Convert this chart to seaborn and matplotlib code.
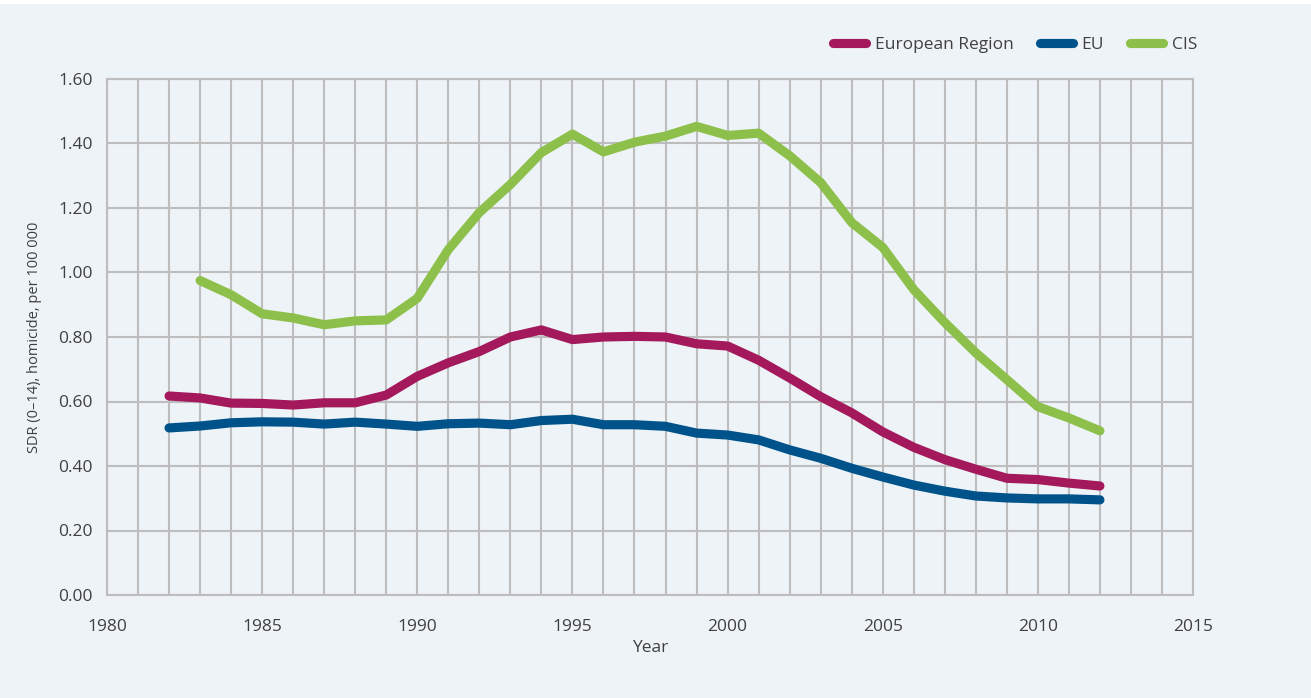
import matplotlib
matplotlib.use("Agg")
import matplotlib.pyplot as plt
import matplotlib.ticker as mticker
import numpy as np
import pandas as pd
import seaborn as sns

# SDR (0-14), homicide, per 100 000
years_eur = list(range(1982, 2013))
european_region = [0.617, 0.611, 0.595, 0.594, 0.589, 0.596, 0.596, 0.620, 0.678, 0.720,
                   0.755, 0.800, 0.822, 0.792, 0.800, 0.802, 0.800, 0.779, 0.772, 0.728,
                   0.673, 0.615, 0.565, 0.506, 0.458, 0.420, 0.390, 0.362, 0.358, 0.347,
                   0.338]
years_eu = list(range(1982, 2013))
eu = [0.518, 0.524, 0.534, 0.537, 0.536, 0.530, 0.536, 0.530, 0.523, 0.531,
      0.533, 0.528, 0.541, 0.545, 0.528, 0.528, 0.523, 0.502, 0.496, 0.481,
      0.450, 0.424, 0.393, 0.366, 0.341, 0.322, 0.307, 0.301, 0.298, 0.298,
      0.295]
years_cis = list(range(1983, 2013))
cis = [0.975, 0.931, 0.872, 0.859, 0.838, 0.850, 0.853, 0.920, 1.071, 1.186,
       1.273, 1.372, 1.429, 1.374, 1.404, 1.423, 1.453, 1.425, 1.432, 1.362,
       1.279, 1.155, 1.078, 0.947, 0.845, 0.751, 0.668, 0.584, 0.549, 0.509]

series_names = ["European Region", "EU", "CIS"]
series_colors = ["#a3195b", "#00538a", "#8dc04a"]

df = pd.concat([
    pd.DataFrame({"Year": years_eur, "value": european_region, "series": "European Region"}),
    pd.DataFrame({"Year": years_eu, "value": eu, "series": "EU"}),
    pd.DataFrame({"Year": years_cis, "value": cis, "series": "CIS"}),
])

bg = "#eef3f8"
grid_c = "#bdbdbd"
text_c = "#404040"

sns.set_theme(style="white")
plt.rcParams["font.family"] = ["Open Sans", "DejaVu Sans"]

fig = plt.figure(figsize=(13.11, 6.98), dpi=100, facecolor=bg)
ax = fig.add_axes([107 / 1311, 1 - 595 / 698, (1193 - 107) / 1311, (595 - 79) / 698])
ax.set_facecolor(bg)

sns.lineplot(data=df, x="Year", y="value", hue="series", hue_order=series_names,
             palette=series_colors, linewidth=6.6, ax=ax, legend=False,
             solid_capstyle="round", solid_joinstyle="round", zorder=3)

ax.set_xlim(1980, 2015)
ax.set_ylim(0, 1.6)
ax.xaxis.set_major_locator(mticker.MultipleLocator(5))
ax.xaxis.set_minor_locator(mticker.MultipleLocator(1))
ax.yaxis.set_major_locator(mticker.MultipleLocator(0.2))
ax.yaxis.set_major_formatter(mticker.FormatStrFormatter("%.2f"))
ax.grid(True, which="both", axis="x", color=grid_c, linewidth=1.5, zorder=0)
ax.grid(True, which="major", axis="y", color=grid_c, linewidth=1.5, zorder=0)
ax.tick_params(axis="both", which="both", length=0, labelsize=12.5, labelcolor=text_c)
ax.tick_params(axis="x", pad=17)
ax.tick_params(axis="y", pad=10)
for sp in ax.spines.values():
    sp.set_color(grid_c)
    sp.set_linewidth(1.5)

ax.set_xlabel("Year", fontsize=12.5, color=text_c, labelpad=4)
ax.set_ylabel("SDR (0\u201314), homicide, per 100 000", fontsize=10.5, color=text_c, labelpad=12)

handles = [plt.Line2D([0], [0], color=c, linewidth=6.6, solid_capstyle="round") for c in series_colors]
fig.legend(handles, series_names, loc="center right", bbox_to_anchor=(0.925, 0.936),
           ncol=3, frameon=False, fontsize=12.5, handlelength=1.9, handletextpad=0.5,
           columnspacing=1.5, labelcolor=text_c)

# thin white strip along the top edge
fig.patches.append(plt.Rectangle((0, 1 - 4 / 698), 1, 4 / 698, transform=fig.transFigure,
                                 facecolor="white", edgecolor="none"))

fig.savefig("out.png", dpi=100, facecolor=bg)
